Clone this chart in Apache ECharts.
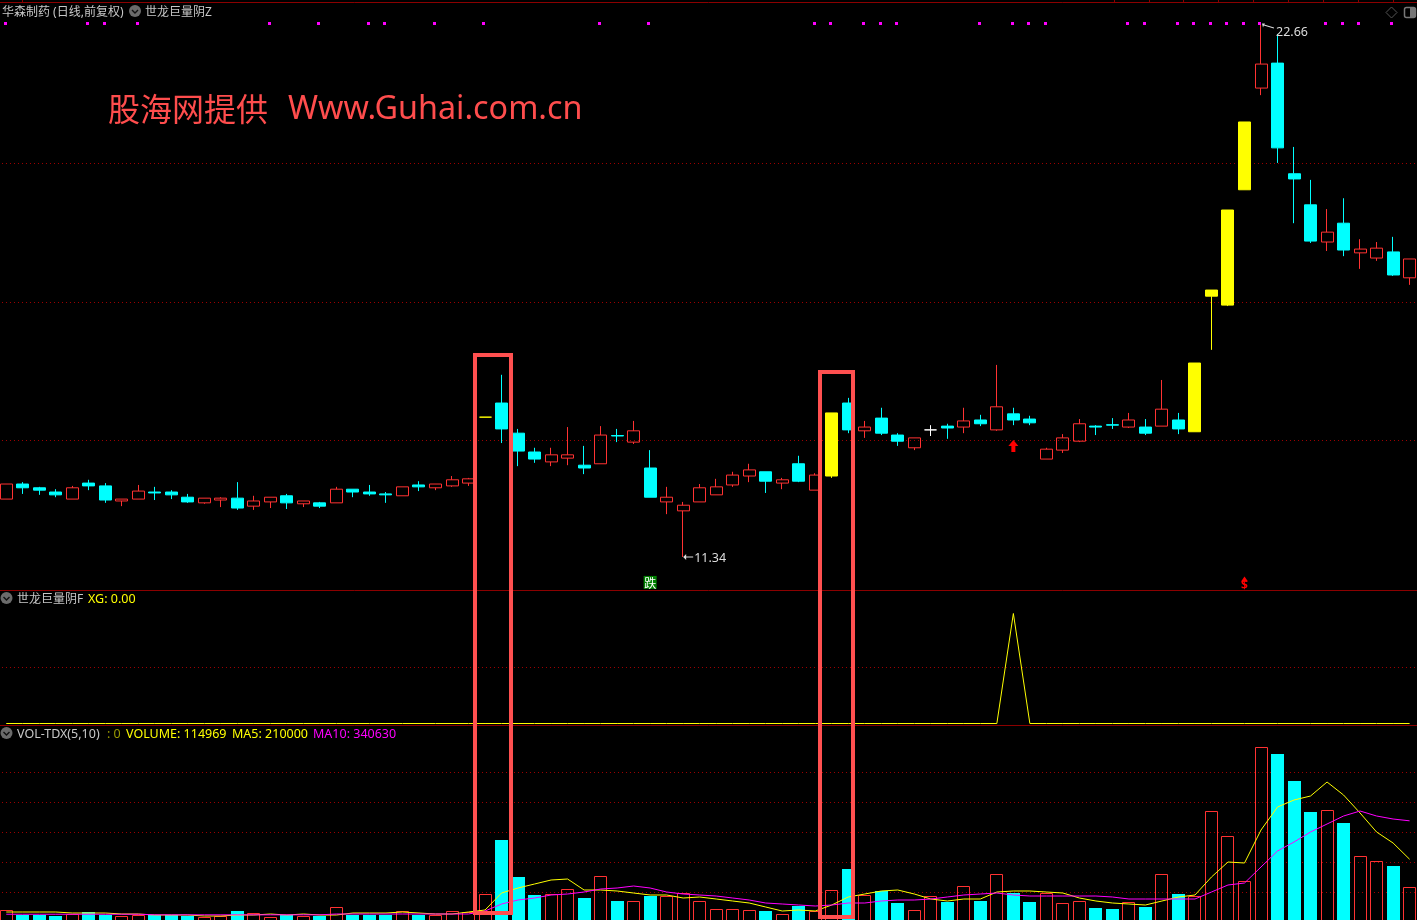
<!DOCTYPE html>
<html>
<head>
<meta charset="utf-8">
<style>html,body{margin:0;padding:0;background:#000}#c{width:1417px;height:920px}</style>
<script src="https://cdn.jsdelivr.net/npm/echarts@6/dist/echarts.min.js"></script>
</head>
<body>
<div id="c"></div>
<script>
const opens = [
12.57,12.89,12.81,12.72,12.57,12.91,12.85,12.53,12.57,12.72,
12.72,12.61,12.49,12.55,12.59,12.42,12.51,12.64,12.47,12.49,
12.49,12.78,12.72,12.68,12.64,12.87,12.81,12.85,12.91,14.31,
14.61,13.97,13.57,13.36,13.44,13.29,13.32,13.92,13.78,13.23,
12.51,12.32,12.51,12.66,12.87,13.06,13.15,12.91,13.32,12.76,
14.40,14.61,14.02,14.29,13.93,13.66,14.04,14.12,14.10,14.25,
14.04,14.38,14.27,13.42,13.61,13.80,14.12,14.15,14.10,14.10,
14.12,14.25,15.46,17.01,18.71,20.58,21.30,21.83,19.48,18.82,
18.03,18.43,17.80,17.69,17.82,17.27];
const closes = [
12.89,12.81,12.76,12.66,12.81,12.85,12.55,12.57,12.74,12.70,
12.66,12.51,12.59,12.59,12.38,12.53,12.61,12.49,12.53,12.42,
12.78,12.72,12.68,12.66,12.83,12.83,12.89,12.98,13.00,14.31,
14.06,13.59,13.42,13.51,13.51,13.23,13.93,13.91,14.02,12.61,
12.61,12.44,12.81,12.83,13.08,13.19,12.95,12.98,12.95,13.08,
13.06,14.04,14.10,13.97,13.80,13.87,14.04,14.08,14.23,14.17,
14.53,14.25,14.19,13.63,13.87,14.17,14.10,14.14,14.25,13.97,
14.48,14.06,14.00,16.88,16.69,19.14,21.81,20.03,19.37,18.05,
18.24,17.86,17.88,17.90,17.33,17.67];
const lows = [
12.57,12.68,12.66,12.61,12.57,12.76,12.49,12.42,12.57,12.55,
12.57,12.49,12.47,12.40,12.34,12.34,12.38,12.36,12.40,12.38,
12.49,12.61,12.64,12.49,12.64,12.74,12.76,12.83,12.85,14.31,
13.76,13.27,13.34,13.27,13.29,13.10,13.32,13.78,13.74,12.61,
12.25,11.34,12.51,12.66,12.83,12.93,12.70,12.78,12.93,12.76,
13.02,13.97,13.87,13.93,13.70,13.61,13.91,13.85,13.97,14.12,
14.02,14.14,14.14,13.42,13.55,13.78,13.93,14.06,14.08,13.93,
14.12,13.95,14.00,15.74,16.67,19.14,21.15,19.71,18.43,18.01,
17.84,17.73,17.46,17.63,17.31,17.12];
const highs = [
12.89,12.93,12.83,12.78,12.85,12.98,12.91,12.57,12.87,12.83,
12.76,12.68,12.59,12.61,12.93,12.64,12.61,12.68,12.53,12.51,
12.83,12.78,12.87,12.72,12.83,12.95,12.89,13.06,13.02,14.31,
15.21,14.06,13.66,13.66,14.10,13.70,14.12,14.06,14.23,13.61,
12.83,12.51,12.89,13.00,13.15,13.32,13.15,13.02,13.49,13.12,
14.40,14.72,14.23,14.51,13.97,13.87,14.14,14.17,14.51,14.36,
15.42,14.51,14.34,13.66,13.95,14.27,14.14,14.29,14.40,14.27,
15.10,14.40,15.46,17.01,18.71,20.58,22.66,22.45,20.05,19.35,
18.73,18.96,18.09,18.03,18.14,17.67];
const volumes = [
37400,20400,20400,17000,23800,30600,20400,17000,20400,20400,
20400,17000,13600,17000,34000,27200,13600,20400,17000,17000,
47600,20400,20400,20400,34000,20400,20400,34000,30600,91800,
275400,149600,88400,91800,108800,78200,153000,68000,68000,85000,
85000,95200,68000,40800,40800,37400,34000,23800,51000,34000,
105400,176800,88400,102000,61200,37400,85000,64600,119000,68000,
159800,95200,64600,95200,61200,68000,44200,40800,64600,47600,
159800,91800,85000,374000,289000,136000,591600,567800,476000,370600,
377400,333200,221000,204000,187000,114969];
const ma5 = [
30600,30600,30600,30600,27200,27200,27200,23800,23800,20400,
20400,20400,17000,17000,20400,20400,23800,20400,23800,20400,
20400,27200,27200,27200,30600,27200,23800,23800,30600,37400,
95200,112200,125800,139400,142800,105400,105400,102000,95200,88400,
88400,78200,81600,74800,68000,61200,47600,34000,37400,34000,
54400,81600,91800,102000,105400,91800,74800,68000,74800,74800,
98600,102000,102000,98600,95200,78200,68000,61200,57800,54400,
68000,81600,88400,149600,200600,197200,309400,387600,411400,425000,
472600,428400,367200,302600,265200,210000];
const ma10 = [
23000,23000,23000,23000,23000,23000,23000,23000,23000,21000,
21000,21000,21000,21000,21000,21000,21000,21000,21000,21000,
23800,23800,23800,23800,23800,23800,23800,23800,23800,34000,
57800,71400,78200,88400,91800,98600,108800,112200,119000,112200,
98600,91800,88400,85000,78200,71400,61200,57800,54400,51000,
54400,61200,61200,68000,71400,71400,74800,81600,88400,91800,
95200,88400,85000,85000,85000,85000,85000,81600,74800,74800,
74800,74800,74800,98600,122400,129200,183600,238000,268600,302600,
329800,357000,374000,357000,346800,340630];
const xg = opens.map(() => 0); // XG is 0 on every day but the one flagged below
const xgDay = 61;
xg[xgDay] = 1;
const categories = opens.map((_, i) => 'D' + (i + 1));
const yellowDays = [29, 50, 72, 73, 74, 75];
const whiteDays = [56];
const signalDays = [0,5,6,8,16,19,22,23,26,29,36,39,49,50,52,53,54,59,61,62,63,68,69,71,72,73,74,75,76,80,81,82,84];
const signalPrice = 22.68;
const priceGrid = [13.8144, 16.7456, 19.6979];
const volGrid = [96900, 198900, 300900, 402900, 504900];
const xgGrid = [0.509];
const lowPrice = 11.34, highPrice = 22.66;

const RED = '#ff3232', CYAN = '#00ffff', YEL = '#ffff00', MAG = '#ff00ff', DARK = '#8b0000';
const FONT = '"Noto Sans","Noto Sans CJK SC",sans-serif';

const solid = c => ({ color: c, color0: c, borderColor: c, borderColor0: c, borderWidth: 1 });
const hollowStyle = { color: 'rgba(0,0,0,0)', color0: 'rgba(0,0,0,0)', borderColor: RED, borderColor0: RED, borderWidth: 1 };
const candleData = opens.map((o, i) => {
  const value = [o, closes[i], lows[i], highs[i]];
  if (yellowDays.includes(i)) return { value, itemStyle: solid(YEL) };
  if (whiteDays.includes(i)) return { value, itemStyle: solid('#ffffff') };
  return { value, itemStyle: closes[i] > o ? hollowStyle : solid(CYAN) };
});
const volData = volumes.map((v, i) => [i, v,
  (closes[i] > opens[i] || yellowDays.includes(i) || whiteDays.includes(i)) ? 1 : 0]);

const gridLineOpt = arr => ({ silent: true, symbol: 'none', z: 1, label: { show: false }, animation: false,
  lineStyle: { color: '#a00000', width: 1, type: [1, 3] }, data: arr.map(v => ({ yAxis: v })) });

const renderVolume = (params, api) => {
  const p = api.coord([api.value(0), api.value(1)]);
  const left = Math.floor(p[0] - 6), top = Math.round(p[1]);
  return api.value(2)
    ? { type: 'rect', shape: { x: left + .5, y: top + .5, width: 12, height: 930 - top }, style: { fill: null, stroke: RED, lineWidth: 1 } }
    : { type: 'rect', shape: { x: left, y: top, width: 13, height: 930 - top }, style: { fill: CYAN } };
};
const renderSignal = (params, api) => {
  const p = api.coord([api.value(0), api.value(1)]);
  return { type: 'rect', shape: { x: Math.round(p[0] - 2.7), y: Math.round(p[1]) - 1, width: 3, height: 3 }, style: { fill: MAG } };
};

const xAxisBase = gi => ({ type: 'category', data: categories, gridIndex: gi, show: false, boundaryGap: true });
const yAxisBase = (gi, min, max) => ({ type: 'value', gridIndex: gi, show: false, min, max, scale: true, splitLine: { show: false } });

const text = (x, y, s, fill, size, family) => ({ type: 'text', z: 50, x, y,
  style: { text: s, fill, font: `${size || 12}px ${family || FONT}`, textVerticalAlign: 'middle' } });
const hline = (y) => ({ type: 'line', z: 40, shape: { x1: 0, y1: y, x2: 1417, y2: y }, style: { stroke: DARK, lineWidth: 1 } });
const badge = (cx, cy) => ({ type: 'group', z: 50, children: [
  { type: 'circle', z: 50, shape: { cx, cy, r: 6 }, style: { fill: '#6b6b6b' } },
  { type: 'polyline', z: 51, shape: { points: [[cx - 3, cy - 1], [cx, cy + 2], [cx + 3, cy - 1]] }, style: { stroke: '#111', fill: null, lineWidth: 1.4 } }
]});
const topTicks = [22, 1114, 1149, 1183, 1218, 1253, 1288, 1323, 1358, 1393];

const L = -2.005, W = 1419.86;
const option = {
  animation: false,
  backgroundColor: '#000',
  grid: [
    { left: L, top: 0, width: W, height: 590, outerBoundsMode: 'none' },
    { left: L, top: 613.5, width: W, height: 110, outerBoundsMode: 'none' },
    { left: L, top: 725, width: W, height: 196, outerBoundsMode: 'none' }
  ],
  xAxis: [xAxisBase(0), xAxisBase(1), xAxisBase(2)],
  yAxis: [yAxisBase(0, 10.639, 23.1707), yAxisBase(1, 0, 1), yAxisBase(2, 0, 666400)],
  series: [
    { type: 'candlestick', name: 'K', xAxisIndex: 0, yAxisIndex: 0, barWidth: 12.5, data: candleData, z: 3,
      markLine: gridLineOpt(priceGrid),
      markPoint: { silent: true, animation: false, z: 6, data: [
        { coord: [41, lowPrice], symbol: 'path://M0 3 L3 0 L3 2.6 L10 2.6 L10 3.4 L3 3.4 L3 6 Z', symbolSize: [10, 6], symbolOffset: [5, 0],
          itemStyle: { color: '#dddddd' },
          label: { show: true, position: 'right', distance: 1, offset: [0, 1], formatter: String(lowPrice), color: '#dddddd', fontSize: 12.5, fontFamily: '"Noto Sans",sans-serif' } },
        { coord: [76, highPrice], symbol: 'path://M0 0 L3 0 L2.2 1 L12 4 L11.8 5 L1.8 2 L1 4 Z', symbolSize: [12, 5], symbolOffset: [7, 2],
          itemStyle: { color: '#dddddd' },
          label: { show: true, position: 'right', distance: 2, offset: [0, 6], formatter: String(highPrice), color: '#dddddd', fontSize: 12.5, fontFamily: '"Noto Sans",sans-serif' } },
        { coord: [61, 13.70], symbol: 'path://M5 0 L10 6 L7 6 L7 12 L3 12 L3 6 L0 6 Z', symbolSize: [10, 12], itemStyle: { color: '#ff0000' }, label: { show: false } },
        { coord: [39, 10.80], symbol: 'rect', symbolSize: 13, itemStyle: { color: '#008000' },
          label: { show: true, position: 'inside', offset: [0, 1], formatter: '跌', color: '#fff', fontSize: 12, fontFamily: '"Noto Sans CJK SC",sans-serif' } },
        { coord: [75, 10.73], symbol: 'rect', symbolSize: 1, itemStyle: { color: '#000' },
          label: { show: true, position: 'inside', formatter: '$', color: '#ff0000', fontSize: 12, fontWeight: 'bold', fontFamily: '"Noto Sans",sans-serif' } },
        { coord: [75, 10.87], symbol: 'triangle', symbolSize: [7, 5], itemStyle: { color: '#ff0000' }, label: { show: false } }
      ] }
    },
    { type: 'custom', name: 'signal', xAxisIndex: 0, yAxisIndex: 0, z: 4, silent: true, renderItem: renderSignal,
      encode: { x: 0, y: 1 }, data: signalDays.map(i => [i, signalPrice]) },
    { type: 'line', name: 'XG', xAxisIndex: 1, yAxisIndex: 1, data: xg, showSymbol: false, symbol: 'none', clip: false, silent: true,
      lineStyle: { color: YEL, width: 1 }, markLine: gridLineOpt(xgGrid) },
    { type: 'custom', name: 'VOLUME', xAxisIndex: 2, yAxisIndex: 2, data: volData, z: 2, silent: true, renderItem: renderVolume,
      encode: { x: 0, y: 1 }, markLine: gridLineOpt(volGrid) },
    { type: 'line', name: 'MA5', xAxisIndex: 2, yAxisIndex: 2, data: ma5, showSymbol: false, symbol: 'none', z: 4, silent: true, lineStyle: { color: YEL, width: 1 } },
    { type: 'line', name: 'MA10', xAxisIndex: 2, yAxisIndex: 2, data: ma10, showSymbol: false, symbol: 'none', z: 5, silent: true, lineStyle: { color: MAG, width: 1 } }
  ],
  graphic: { elements: [
    hline(2.5), hline(590.5), hline(725.5),
    ...topTicks.map(x => ({ type: 'line', z: 40, shape: { x1: x + .5, y1: 0, x2: x + .5, y2: 2 }, style: { stroke: DARK, lineWidth: 1 } })),
    text(2, 13, '华森制药 (日线,前复权)', '#c8c8c8'),
    badge(135, 11),
    text(145, 13, '世龙巨量阴Z', '#c8c8c8'),
    { type: 'polygon', z: 50, shape: { points: [[1391.5, 7], [1397, 12.5], [1391.5, 18], [1386, 12.5]] }, style: { stroke: '#555', fill: null } },
    { type: 'rect', z: 50, shape: { x: 1404.5, y: 7.5, width: 11, height: 10, r: 2 }, style: { stroke: '#777', fill: null, lineWidth: 1.5 } },
    { type: 'rect', z: 50, shape: { x: 1410, y: 8, width: 5, height: 9 }, style: { fill: '#777' } },
    badge(6.5, 598),
    text(17, 600, '世龙巨量阴F', '#c8c8c8'),
    text(88, 599, 'XG: 0.00', YEL, 12.5),
    badge(6.5, 733),
    text(17, 734, 'VOL-TDX(5,10)', '#c8c8c8', 12.5),
    text(107, 734, ': 0', '#9a9a00', 12.5),
    text(126, 734, 'VOLUME: 114969', YEL, 12.5),
    text(232, 734, 'MA5: 210000', YEL, 12.5),
    text(313, 734, 'MA10: 340630', MAG, 12.5),
    text(108, 109, '股海网提供', '#ff4d4d', 32, '"Noto Sans CJK SC",sans-serif'),
    text(288, 110, 'Www.Guhai.com.cn', '#ff4d4d', 32.3, '"Noto Sans",sans-serif'),
    { type: 'rect', z: 60, shape: { x: 475, y: 355, width: 36, height: 558 }, style: { stroke: '#ff5050', fill: null, lineWidth: 4 } },
    { type: 'rect', z: 60, shape: { x: 820, y: 372, width: 33, height: 545 }, style: { stroke: '#ff5050', fill: null, lineWidth: 4 } }
  ] }
};
const chart = echarts.init(document.getElementById('c'), null, { renderer: 'canvas' });
chart.setOption(option);
</script>
</body>
</html>
